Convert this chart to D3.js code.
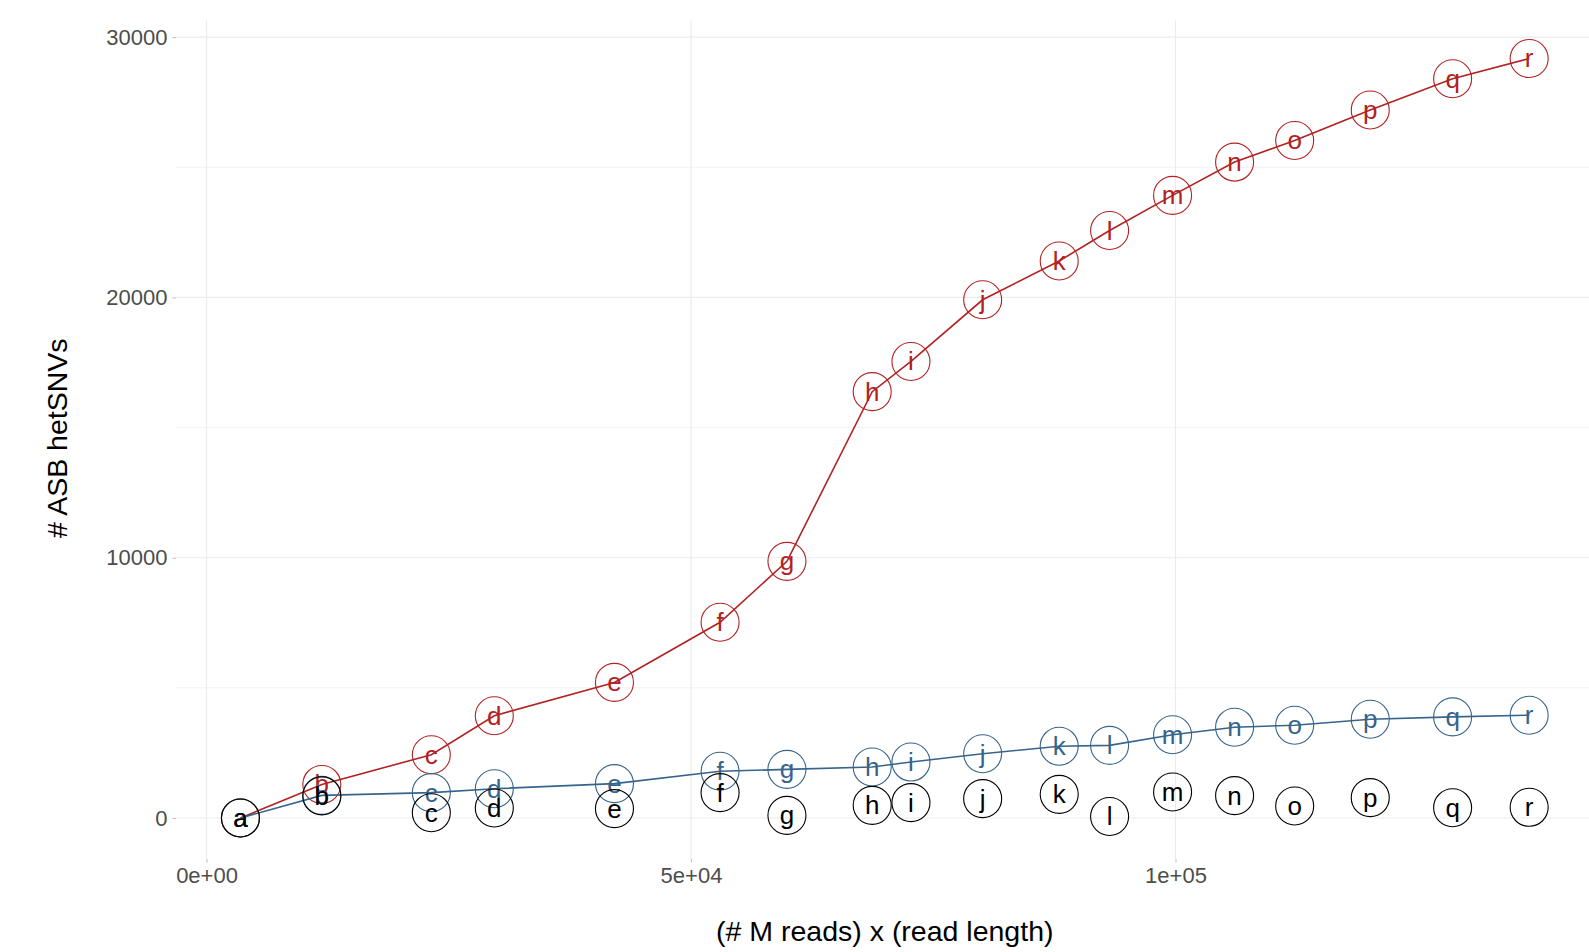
<!DOCTYPE html>
<html>
<head>
<meta charset="utf-8">
<script src="https://cdn.jsdelivr.net/npm/d3@7"></script>
<style>
  html, body { margin: 0; padding: 0; background: #fff; }
  svg { display: block; font-family: "Liberation Sans", Arial, Helvetica, sans-serif; }
</style>
</head>
<body>
<svg id="chart" width="1589" height="952"></svg>
<script>
// Sample labels, one per sequencing depth
const samples = ["a","b","c","d","e","f","g","h","i","j","k","l","m","n","o","p","q","r"];

// Total sequencing: (# M reads) x (read length)
const depth = [3500, 11900, 23200, 29700, 42100, 53000, 59900, 68700, 72700,
               80100, 88000, 93200, 99700, 106100, 112300, 120100, 128600, 136500];

// Number of ASB hetSNVs per series
const redCounts   = [0, 1290, 2430, 3930, 5210, 7520, 9860, 16380, 17540,
                     19910, 21400, 22570, 23920, 25200, 26030, 27200, 28400, 29180];
const blueCounts  = [0, 870, 975, 1125, 1320, 1795, 1870, 1960, 2150,
                     2470, 2760, 2790, 3200, 3490, 3565, 3795, 3885, 3950];
const blackCounts = [0, 850, 205, 385, 360, 975, 100, 487, 590,
                     745, 910, 60, 1000, 860, 461, 782, 397, 411];

const seriesColors = ["#B22222", "#36648B", "#000000"];
const xTicks = [0, 50000, 100000];
const xTickLabels = ["0e+00", "5e+04", "1e+05"];
const yTicks = [0, 10000, 20000, 30000];
const yMinorTicks = [5000, 15000, 25000];

const svg = d3.select("#chart");
const W = 1589, H = 952;

// panel edges
const panel = { left: 176, right: 1593.6, top: 20.5, bottom: 856 };

// 5% expansion on each side of the data range
function expand(ext) {
  const pad = (ext[1] - ext[0]) * 0.05;
  return [ext[0] - pad, ext[1] + pad];
}
const allY = redCounts.concat(blueCounts, blackCounts);
const x = d3.scaleLinear().domain(expand(d3.extent(depth))).range([panel.left, panel.right]);
const y = d3.scaleLinear().domain(expand(d3.extent(allY))).range([panel.bottom, panel.top]);

const grid = svg.append("g");
// minor horizontal grid
grid.selectAll(".ymin").data(yMinorTicks).join("line")
  .attr("x1", panel.left).attr("x2", W)
  .attr("y1", d => y(d)).attr("y2", d => y(d))
  .attr("stroke", "#EFEFEF").attr("stroke-width", 0.8);
// major horizontal grid
grid.selectAll(".ymaj").data(yTicks).join("line")
  .attr("x1", panel.left).attr("x2", W)
  .attr("y1", d => y(d)).attr("y2", d => y(d))
  .attr("stroke", "#EBEBEB").attr("stroke-width", 1.2);
// major vertical grid
grid.selectAll(".xmaj").data(xTicks).join("line")
  .attr("x1", d => x(d)).attr("x2", d => x(d))
  .attr("y1", panel.top).attr("y2", panel.bottom + 3)
  .attr("stroke", "#EBEBEB").attr("stroke-width", 1.2);

// axes (ticks + labels)
const xAxis = d3.axisBottom(x).tickValues(xTicks)
  .tickFormat((d, i) => xTickLabels[i]).tickSize(3.5).tickPadding(5);
const gx = svg.append("g").attr("transform", `translate(0,${panel.bottom + 3})`).call(xAxis);
gx.select(".domain").remove();
gx.selectAll(".tick line").attr("stroke", "#BDBDBD");
gx.selectAll(".tick text").attr("fill", "#4D4D4D").attr("font-size", 22)
  .attr("font-family", "Liberation Sans, Arial, sans-serif");

const yAxis = d3.axisLeft(y).tickValues(yTicks).tickFormat(d3.format("d"))
  .tickSize(3.5).tickPadding(5);
const gy = svg.append("g").attr("transform", `translate(${panel.left},0)`).call(yAxis);
gy.select(".domain").remove();
gy.selectAll(".tick line").attr("stroke", "#BDBDBD");
gy.selectAll(".tick text").attr("fill", "#4D4D4D").attr("font-size", 22)
  .attr("font-family", "Liberation Sans, Arial, sans-serif");

// axis titles
svg.append("text")
  .attr("x", (panel.left + panel.right) / 2).attr("y", 931)
  .attr("text-anchor", "middle").attr("dominant-baseline", "central")
  .attr("font-size", 28.5).attr("fill", "#000")
  .text("(# M reads) x (read length)");
svg.append("text")
  .attr("transform", `translate(57,${(panel.top + panel.bottom) / 2}) rotate(-90)`)
  .attr("text-anchor", "middle").attr("dominant-baseline", "central")
  .attr("font-size", 28.5).attr("fill", "#000")
  .text("# ASB hetSNVs");

// series: red and blue with connecting lines, black as points only
const series = [
  { values: redCounts,   color: seriesColors[0], line: true },
  { values: blueCounts,  color: seriesColors[1], line: true },
  { values: blackCounts, color: seriesColors[2], line: false }
];

const line = d3.line().x(d => x(d.x)).y(d => y(d.y));

series.forEach(s => {
  const pts = samples.map((lab, i) => ({ lab, x: depth[i], y: s.values[i] }));
  const g = svg.append("g");
  if (s.line) {
    g.append("path").datum(pts).attr("d", line)
      .attr("fill", "none").attr("stroke", s.color).attr("stroke-width", 1.6);
  }
  g.selectAll("circle").data(pts).join("circle")
    .attr("cx", d => x(d.x)).attr("cy", d => y(d.y)).attr("r", 19)
    .attr("fill", "none").attr("stroke", s.color).attr("stroke-width", 1.1);
  g.selectAll("text").data(pts).join("text")
    .attr("x", d => x(d.x)).attr("y", d => y(d.y))
    .attr("text-anchor", "middle").attr("dominant-baseline", "central")
    .attr("font-size", 26).attr("fill", s.color)
    .text(d => d.lab);
});
</script>
</body>
</html>
